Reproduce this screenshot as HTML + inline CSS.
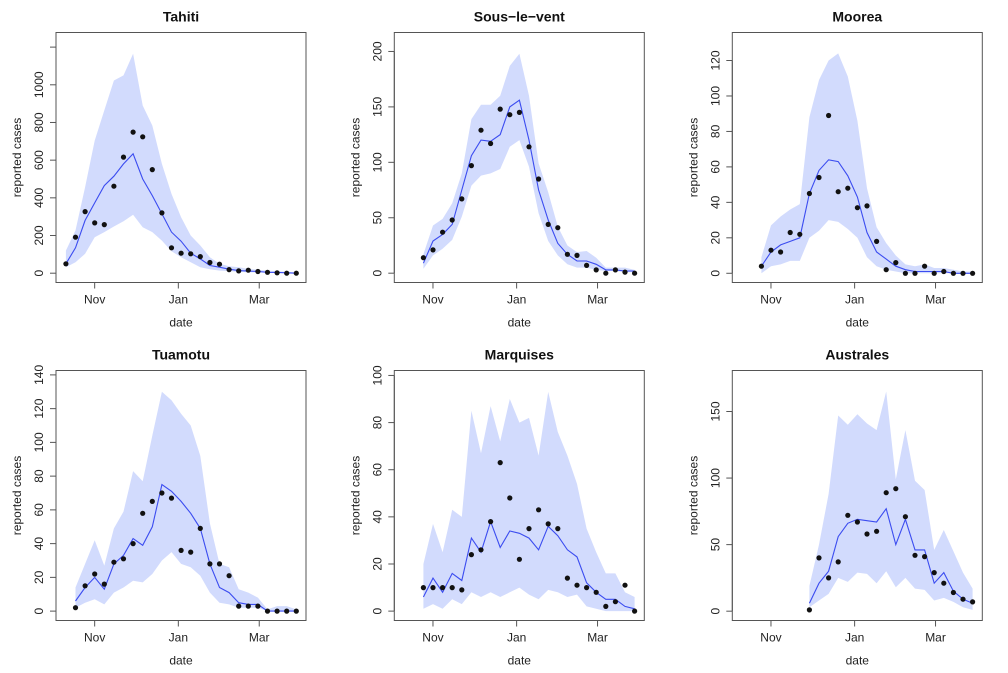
<!DOCTYPE html>
<html><head><meta charset="utf-8">
<style>
html,body{margin:0;padding:0;background:#fff;}
svg{display:block;font-family:"Liberation Sans",Arial,sans-serif;}
</style></head>
<body>
<svg id="chart" width="1008" height="673" viewBox="0 0 1008 673" xmlns="http://www.w3.org/2000/svg"></svg>
<script>
// x axis: days relative to Nov 1; weeks at -21 + 7k
const xTickLabels = ["Nov","Jan","Mar"];
const xTickDays = [0, 61, 120];
const panelNames = ["Tahiti","Sous\u2212le\u2212vent","Moorea","Tuamotu","Marquises","Australes"];
const panelStartWeek = [0,2,2,1,2,7];
const tahitiObs = [50,191,327,267,258,462,616,749,724,550,320,135,106,103,88,57,48,19,12,16,9,5,2,0,0];
const tahitiMed = [50,135,280,373,465,515,580,634,500,412,315,218,170,106,76,41,32,21,14,11,9,5,4,2,0];
const tahitiHi = [120,227,457,704,864,1023,1050,1165,890,784,580,421,297,200,147,85,50,37,32,23,18,14,11,7,4];
const tahitiLo = [32,58,103,191,218,248,276,310,244,218,173,117,85,58,32,21,14,11,7,5,4,2,2,0,0];
const slvObs = [14,21,37,48,67,97,129,117,148,143,145,114,85,44,41,17,16,7,3,0,3,1,0];
const slvMed = [9,29,35,44,75,106,120,119,125,150,156,120,75,48,27,17,11,11,8,3,3,2,2];
const slvHi = [17,43,49,63,90,139,152,152,160,187,198,160,99,73,42,25,19,20,14,5,5,5,3];
const slvLo = [4,16,22,30,51,79,88,90,94,114,120,96,54,29,16,8,5,5,3,2,2,1,1];
const mooObs = [4,13,12,23,22,45,54,89,46,48,37,38,18,2,6,0,0,4,0,1,0,0,0];
const mooMed = [4,12,16,18,20,45,58,64,63,55,43,23,12,8,4,2,1,1,1,1,0,0,0];
const mooHi = [9,27,32,36,39,88,109,120,124,111,86,48,26,17,10,5,4,5,3,3,2,1,1];
const mooLo = [0,4,5,7,7,20,24,30,29,25,20,9,4,2,1,0,0,0,0,0,0,0,0];
const tuaObs = [2,15,22,16,29,31,40,58,65,70,67,36,35,49,28,28,21,3,3,3,0,0,0,0];
const tuaMed = [6,14,20,13,28,33,43,39,50,75,71,65,58,49,28,14,11,5,4,4,0,0,0,0];
const tuaHi = [14,28,42,27,49,59,83,77,104,130,125,117,110,92,52,28,26,13,11,8,1,3,3,1];
const tuaLo = [2,5,7,4,11,14,18,17,22,30,35,28,26,21,11,5,4,2,2,2,0,0,0,0];
const marObs = [10,10,10,10,9,24,26,38,63,48,22,35,43,37,35,14,11,10,8,2,4,11,0];
const marMed = [6,14,8,16,13,31,25,38,27,34,33,31,26,36,32,26,23,12,8,5,5,2,1];
const marHi = [20,37,25,43,40,85,67,87,72,90,80,82,66,93,76,66,54,35,25,16,16,8,6];
const marLo = [1,3,1,5,3,8,6,8,6,8,10,7,5,9,8,6,7,2,1,0,0,0,0];
const ausObs = [1,40,25,37,72,67,58,60,89,92,71,42,41,29,21,14,9,7];
const ausMed = [6,21,30,56,66,69,68,67,77,50,69,46,46,21,29,15,9,6];
const ausHi = [19,50,88,147,140,148,141,136,165,99,136,98,91,46,61,45,29,17];
const ausLo = [3,8,13,25,22,29,28,21,30,18,25,17,16,8,10,7,3,1];
const yTicks = [[0,200,400,600,800,1000,1200],[0,50,100,150,200],[0,20,40,60,80,100,120],[0,20,40,60,80,100,120,140],[0,20,40,60,80,100],[0,50,100,150]];
const yTickShown = [[1,1,1,1,1,1,0],[1,1,1,1,1],[1,1,1,1,1,1,1],[1,1,1,1,1,1,1,1],[1,1,1,1,1,1],[1,1,1,1]];
const yLims = [[-49.4,1277.6],[-8.4,217.1],[-5.2,135.8],[-5.56,142.6],[-3.98,102.1],[-7.0,180.8]];

const series = [
 [tahitiObs,tahitiMed,tahitiHi,tahitiLo],[slvObs,slvMed,slvHi,slvLo],[mooObs,mooMed,mooHi,mooLo],
 [tuaObs,tuaMed,tuaHi,tuaLo],[marObs,marMed,marHi,marLo],[ausObs,ausMed,ausHi,ausLo]];
const boxLefts=[56,394.3,732.3], boxTops=[32.5,370.5], W=250, H=250;
const xMin=-28.2, xMax=154.1;
const NS="http://www.w3.org/2000/svg";
const svg=document.getElementById('chart');
function mk(tag,attrs,parent){const e=document.createElementNS(NS,tag);for(const k in attrs)e.setAttribute(k,attrs[k]);(parent||svg).appendChild(e);return e;}

for(let p=0;p<6;p++){
  const L=boxLefts[p%3], T=boxTops[Math.floor(p/3)];
  const [lo,hi]=yLims[p];
  const xs=d=>L+(d-xMin)/(xMax-xMin)*W;
  const ys=v=>T+H-(v-lo)/(hi-lo)*H;
  const g=mk('g',{});
  
  
  const [obs,med,up,dn]=series[p];
  const day=i=>-21+7*(panelStartWeek[p]+i);
  // band
  let pts=[];
  for(let i=0;i<up.length;i++)pts.push(xs(day(i)).toFixed(1)+','+ys(up[i]).toFixed(1));
  for(let i=dn.length-1;i>=0;i--)pts.push(xs(day(i)).toFixed(1)+','+ys(dn[i]).toFixed(1));
  const band=mk('polygon',{points:pts.join(' '),fill:'#d2dbfd',stroke:'none'},g);
  
  
  // median line
  const lp=med.map((v,i)=>xs(day(i)).toFixed(1)+','+ys(v).toFixed(1)).join(' ');
  const line=mk('polyline',{points:lp,fill:'none',stroke:'#3b4cf0','stroke-width':1.1},g);
  
  
  // points
  obs.forEach((v,i)=>{
    const c=mk('circle',{cx:xs(day(i)).toFixed(1),cy:ys(v).toFixed(1),r:2.6,fill:'#111'},g);
    
    
  });
  // box
  const box=mk('rect',{x:L,y:T,width:W,height:H,fill:'none',stroke:'#555','stroke-width':1},g);
  
  
  // y axis
  const yt=yTicks[p];
  mk('line',{x1:L,x2:L,y1:ys(yt[0]),y2:ys(yt[yt.length-1]),stroke:'#555'},g);
  yt.forEach((v,i)=>{
    const y=ys(v);
    mk('line',{x1:L-6,x2:L,y1:y,y2:y,stroke:'#555'},g);
    if(yTickShown[p][i]){
      const t=mk('text',{x:0,y:0,transform:`translate(${L-13},${y}) rotate(-90)`,'text-anchor':'middle','font-size':12,fill:'#222'},g);
      t.textContent=v;
      
      
    }
  });
  // x axis
  const xb=T+H;
  mk('line',{x1:xs(xTickDays[0]),x2:xs(xTickDays[2]),y1:xb,y2:xb,stroke:'#555'},g);
  xTickDays.forEach((d,i)=>{
    const x=xs(d);
    mk('line',{x1:x,x2:x,y1:xb,y2:xb+6,stroke:'#555'},g);
    const t=mk('text',{x:x,y:xb+21,'text-anchor':'middle','font-size':12,fill:'#222'},g);
    t.textContent=xTickLabels[i];
    
    
  });
  const xl=mk('text',{x:L+W/2,y:T+H+44,'text-anchor':'middle','font-size':12,fill:'#222'},g);
  xl.textContent='date';
  
  
  const yl=mk('text',{x:0,y:0,transform:`translate(${L-35},${T+H/2}) rotate(-90)`,'text-anchor':'middle','font-size':12,fill:'#222'},g);
  yl.textContent='reported cases';
  
  
  const tt=mk('text',{x:L+W/2,y:T-11,'text-anchor':'middle','font-size':14,'font-weight':'bold',fill:'#111'},g);
  tt.textContent=panelNames[p];
  
  
}
</script>
</body></html>
